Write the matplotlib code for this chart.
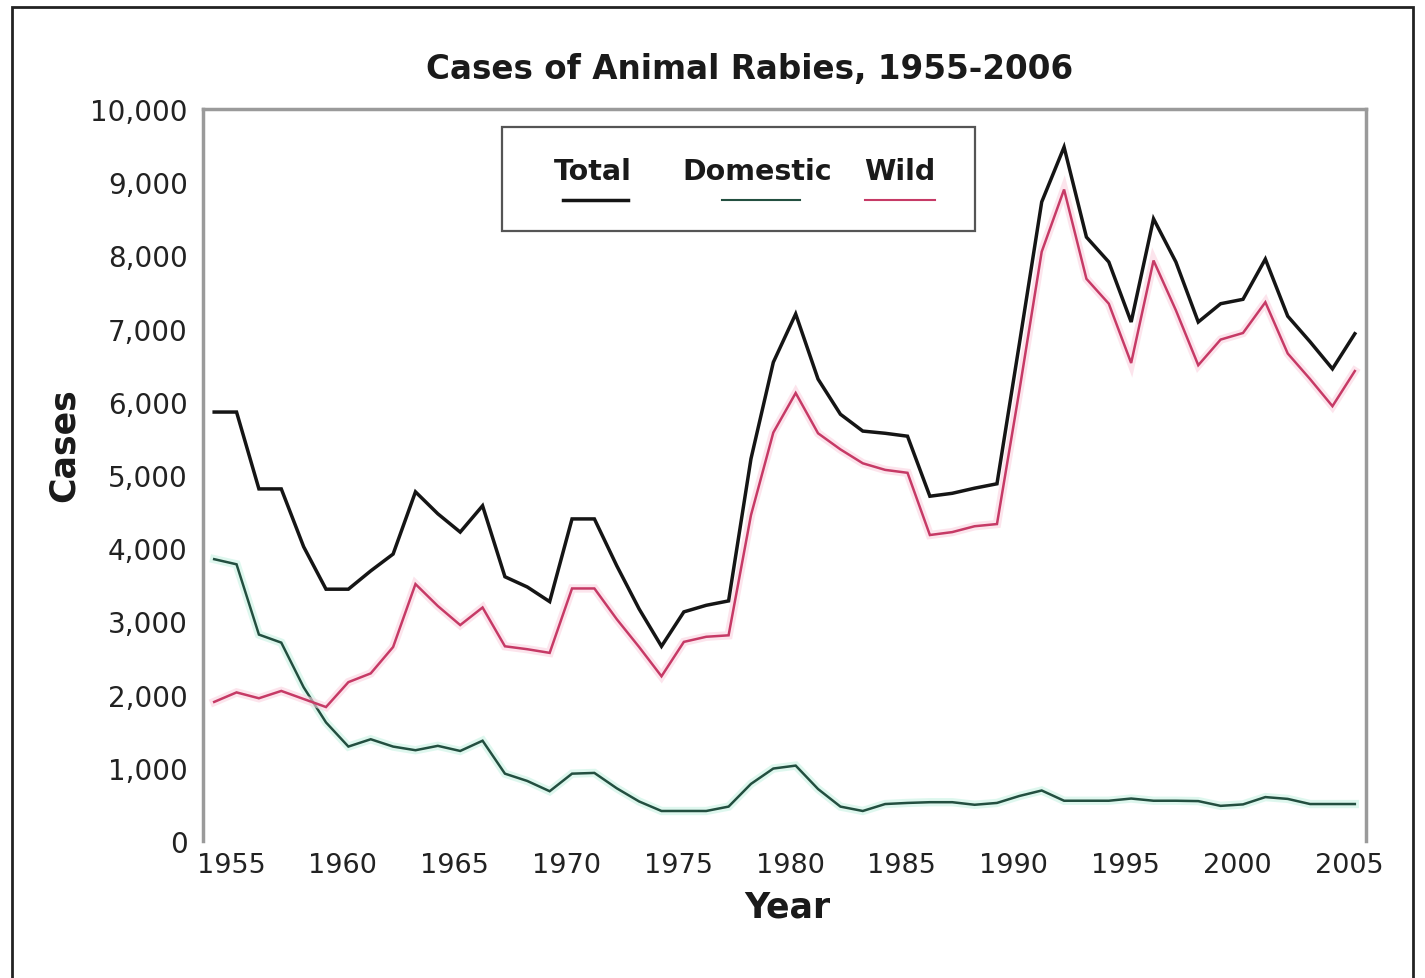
import matplotlib
matplotlib.use("Agg")
import matplotlib.pyplot as plt
import matplotlib.patheffects as pe
from matplotlib.patches import Rectangle
from matplotlib.lines import Line2D
from matplotlib.ticker import FuncFormatter

years = list(range(1955, 2007))

total = [5860, 5860, 4810, 4810, 4020, 3440, 3440, 3690, 3920, 4770,
         4470, 4220, 4580, 3610, 3470, 3270, 4400, 4400, 3760, 3170,
         2660, 3130, 3220, 3280, 5220, 6540, 7200, 6310, 5830, 5600,
         5570, 5530, 4710, 4750, 4820, 4880, 6790, 8730, 9480, 8250,
         7910, 7090, 8500, 7910, 7090, 7340, 7400, 7950, 7170, 6820,
         6450, 6930]

domestic = [3850, 3780, 2820, 2710, 2100, 1620, 1290, 1390, 1290, 1240,
            1300, 1230, 1370, 920, 820, 680, 920, 930, 720, 540,
            410, 410, 410, 470, 780, 990, 1030, 710, 470, 410,
            505, 520, 530, 530, 495, 520, 615, 690, 550, 550,
            550, 580, 550, 550, 545, 480, 500, 600, 575, 505,
            505, 505]

wild = [1900, 2030, 1950, 2050, 1940, 1830, 2170, 2290, 2650, 3510,
        3210, 2950, 3190, 2660, 2620, 2570, 3450, 3450, 3030, 2650,
        2250, 2720, 2790, 2810, 4450, 5580, 6120, 5570, 5350, 5160,
        5070, 5030, 4180, 4220, 4300, 4330, 6150, 8050, 8900, 7680,
        7340, 6530, 7930, 7250, 6500, 6850, 6940, 7360, 6660, 6310,
        5940, 6420]

tick_years = [1955, 1960, 1965, 1970, 1975, 1980, 1985, 1990, 1995, 2000, 2005]
y_ticks = list(range(0, 10001, 1000))

title = "Cases of Animal Rabies, 1955-2006"
series_names = ["Total", "Domestic", "Wild"]

W, H = 1425, 979
fig = plt.figure(figsize=(W / 100, H / 100), dpi=100)
fig.patch.set_facecolor("white")

def fx(px):
    return px / W

def fy(py):
    return 1 - py / H

ax = fig.add_axes([fx(203), fy(842), fx(1366) - fx(203), fy(110) - fy(842)])

c_total = "#151515"
c_dom = "#234f40"
c_wild = "#c63a66"

ax.plot(years, domestic, color=c_dom, lw=1.8, solid_joinstyle="miter",
        path_effects=[pe.Stroke(linewidth=6, foreground="#c9f3e4", alpha=0.6), pe.Normal()])
ax.plot(years, wild, color=c_wild, lw=1.8, solid_joinstyle="miter",
        path_effects=[pe.Stroke(linewidth=6, foreground="#fad3e0", alpha=0.6), pe.Normal()])
ax.plot(years, total, color=c_total, lw=2.5, solid_joinstyle="miter")

ax.set_xlim(years[0] - 0.5, years[-1] + 0.5)
ax.set_ylim(0, 10000)
ax.set_yticks(y_ticks)
ax.yaxis.set_major_formatter(FuncFormatter(lambda v, p: f"{int(v):,}"))
ax.set_xticks([y + 0.75 for y in tick_years])
ax.set_xticklabels([str(y) for y in tick_years])
ax.tick_params(axis="both", length=0, colors="#222222")
ax.tick_params(axis="y", pad=11, labelsize=20)
ax.tick_params(axis="x", pad=8, labelsize=19.5)
for lab in ax.get_xticklabels() + ax.get_yticklabels():
    lab.set_family("DejaVu Sans")

for s in ["left", "top", "right"]:
    ax.spines[s].set_color("#9a9a9a")
    ax.spines[s].set_linewidth(2.5)
ax.spines["bottom"].set_visible(False)

fig.text(fx(750), fy(70), title, ha="center", va="center", fontsize=23.5,
         fontweight="bold", color="#1a1a1a", family="DejaVu Sans")
fig.text(fx(64), fy(445), "Cases", ha="center", va="center", fontsize=25,
         fontweight="bold", rotation=90, color="#1a1a1a", family="DejaVu Sans")
fig.text(fx(787), fy(908), "Year", ha="center", va="center", fontsize=25,
         fontweight="bold", color="#1a1a1a", family="DejaVu Sans")

# legend (labels above line samples)
fig.add_artist(Rectangle((fx(502), fy(232)), fx(975) - fx(502), fy(128) - fy(232),
                         transform=fig.transFigure, facecolor="white",
                         edgecolor="#555555", lw=1.6))
leg_items = [
    (series_names[0], c_total, 2.5, 593, 563, 628),
    (series_names[1], c_dom, 1.5, 757, 722, 800),
    (series_names[2], c_wild, 1.5, 900, 865, 935),
]
for name, col, lw, cx, x0, x1 in leg_items:
    fig.text(fx(cx), fy(172), name, ha="center", va="center", fontsize=20.5,
             fontweight="bold", color="#1a1a1a", family="DejaVu Sans")
    fig.add_artist(Line2D([fx(x0), fx(x1)], [fy(201), fy(201)], color=col, lw=lw,
                          transform=fig.transFigure))

# outer frame
fig.add_artist(Rectangle((fx(12), -0.02), fx(1413) - fx(12), fy(8) + 0.02,
                         transform=fig.transFigure, facecolor="none",
                         edgecolor="#222222", lw=2, clip_on=False))

fig.savefig("out.png", dpi=100)
